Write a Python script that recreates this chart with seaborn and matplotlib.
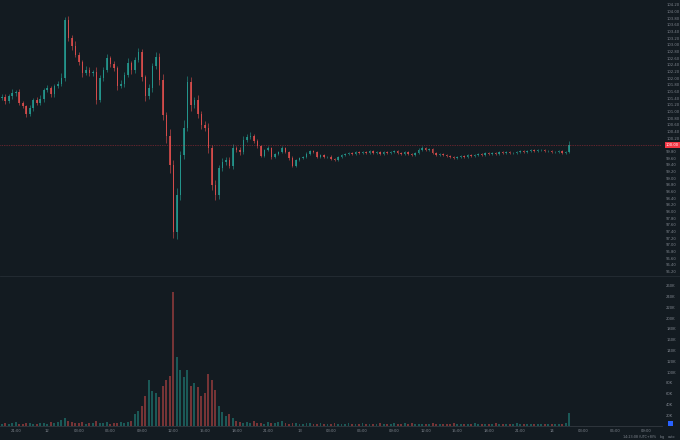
import numpy as np
import pandas as pd
import matplotlib.pyplot as plt
import matplotlib.transforms as mtransforms
from matplotlib.patches import Rectangle
import seaborn as sns

# 20-minute candles
start_time = "2023-05-11 19:40"
first_open = 101.40
closes = [
    101.44, 101.32, 101.47, 101.56, 101.59, 101.26, 101.17, 100.93, 101.11, 101.35,
    101.26, 101.38, 101.65, 101.71, 101.53, 101.77, 101.83, 102.01, 103.75, 103.21,
    102.97, 102.70, 102.49, 102.16, 102.25, 102.16, 102.19, 101.35, 102.01, 102.25,
    102.61, 102.43, 102.31, 101.77, 101.83, 102.10, 102.46, 102.25, 102.55, 102.79,
    102.04, 101.47, 101.71, 102.37, 102.64, 101.95, 100.90, 100.27, 99.40, 97.39,
    98.50, 99.70, 100.51, 101.89, 101.20, 101.35, 100.93, 100.60, 100.51, 99.91,
    98.80, 98.50, 99.31, 99.49, 99.55, 99.37, 99.91, 99.85, 99.79, 100.15,
    100.24, 100.27, 100.12, 99.97, 99.67, 99.85, 99.91, 99.64, 99.73, 99.79,
    99.91, 99.79, 99.61, 99.37, 99.55, 99.61, 99.64, 99.73, 99.82, 99.79,
    99.64, 99.70, 99.64, 99.64, 99.58, 99.55, 99.64, 99.70, 99.73, 99.76,
    99.73, 99.79, 99.76, 99.79, 99.76, 99.82, 99.76, 99.79, 99.73, 99.79,
    99.76, 99.79, 99.82, 99.76, 99.73, 99.79, 99.73, 99.70, 99.76, 99.85,
    99.91, 99.85, 99.88, 99.76, 99.70, 99.73, 99.70, 99.67, 99.64, 99.61,
    99.64, 99.67, 99.64, 99.70, 99.67, 99.70, 99.73, 99.70, 99.76, 99.73,
    99.76, 99.73, 99.79, 99.76, 99.79, 99.76, 99.76, 99.79, 99.82, 99.79,
    99.82, 99.85, 99.82, 99.85, 99.85, 99.82, 99.82, 99.79, 99.79, 99.82,
    99.76, 99.79, 100.00,
]
upper_wicks = [
    0.08, 0.10, 0.06, 0.12, 0.05, 0.09, 0.07, 0.04, 0.10, 0.06,
    0.08, 0.11, 0.05, 0.09, 0.07, 0.06, 0.10, 0.15, 0.09, 0.12,
    0.08, 0.14, 0.10, 0.07, 0.12, 0.09, 0.06, 0.15, 0.10, 0.08,
    0.13, 0.07, 0.09, 0.06, 0.11, 0.08, 0.14, 0.07, 0.10, 0.12,
    0.09, 0.06, 0.13, 0.10, 0.16, 0.12, 0.18, 0.10, 0.22, 0.15,
    0.20, 0.12, 0.25, 0.18, 0.14, 0.10, 0.16, 0.08, 0.12, 0.15,
    0.10, 0.14, 0.09, 0.11, 0.08, 0.10, 0.12, 0.07, 0.09, 0.11,
    0.08, 0.12, 0.06, 0.05,
    0.04, 0.03, 0.05, 0.03, 0.04, 0.02, 0.05, 0.03, 0.04, 0.06,
    0.03, 0.04, 0.02, 0.05, 0.03, 0.04, 0.03, 0.02, 0.04, 0.03,
    0.05, 0.03, 0.02, 0.04, 0.03, 0.02, 0.03, 0.04, 0.02, 0.03,
    0.02, 0.04, 0.03, 0.02, 0.03, 0.02, 0.03, 0.02, 0.04, 0.02,
    0.03, 0.02, 0.03, 0.02, 0.04, 0.05, 0.06, 0.03, 0.04, 0.02,
    0.03, 0.02, 0.03, 0.02, 0.02, 0.03, 0.02, 0.03, 0.02, 0.03,
    0.02, 0.03, 0.02, 0.03, 0.02, 0.03, 0.02, 0.02, 0.03, 0.02,
    0.03, 0.02, 0.02, 0.03, 0.02, 0.03, 0.02, 0.03, 0.02, 0.02,
    0.03, 0.02, 0.02, 0.03, 0.02, 0.03, 0.02, 0.02, 0.12,
]
lower_wicks = [
    0.06, 0.09, 0.05, 0.08, 0.10, 0.07, 0.05, 0.09, 0.06, 0.08,
    0.05, 0.07, 0.10, 0.06, 0.08, 0.09, 0.05, 0.07, 0.10, 0.08,
    0.12, 0.07, 0.09, 0.11, 0.06, 0.10, 0.08, 0.12, 0.07, 0.09,
    0.06, 0.10, 0.08, 0.13, 0.07, 0.09, 0.06, 0.11, 0.08, 0.07,
    0.12, 0.15, 0.09, 0.11, 0.08, 0.14, 0.16, 0.20, 0.25, 0.18,
    0.22, 0.15, 0.12, 0.10, 0.18, 0.09, 0.13, 0.11, 0.10, 0.14,
    0.16, 0.15, 0.12, 0.08, 0.10, 0.07, 0.09, 0.06, 0.08, 0.07,
    0.06, 0.05, 0.07, 0.05,
    0.03, 0.04, 0.02, 0.05, 0.03, 0.04, 0.02, 0.03, 0.05, 0.04,
    0.03, 0.02, 0.04, 0.03, 0.02, 0.03, 0.04, 0.03, 0.02, 0.03,
    0.04, 0.02, 0.03, 0.02, 0.03, 0.02, 0.03, 0.02, 0.03, 0.02,
    0.03, 0.02, 0.02, 0.03, 0.02, 0.03, 0.02, 0.03, 0.02, 0.03,
    0.02, 0.03, 0.02, 0.03, 0.02, 0.03, 0.02, 0.03, 0.02, 0.04,
    0.03, 0.02, 0.03, 0.02, 0.04, 0.03, 0.02, 0.03, 0.02, 0.03,
    0.02, 0.03, 0.02, 0.03, 0.02, 0.02, 0.03, 0.02, 0.03, 0.02,
    0.02, 0.03, 0.02, 0.02, 0.03, 0.02, 0.02, 0.03, 0.02, 0.02,
    0.03, 0.02, 0.02, 0.03, 0.02, 0.02, 0.03, 0.02, 0.03,
]
# volume in thousands
volumes = [
    4, 6, 3, 5, 7, 4, 3, 6, 5, 4, 3, 5, 6, 4, 7, 5, 8, 12,
    15, 10, 8, 6, 5, 7, 4, 6, 5, 9, 6, 5, 7, 4, 6, 5, 8, 6, 7, 9,
    22, 28, 37, 55, 85, 65, 61, 54, 74, 85, 93, 248, 128, 104, 91, 104, 74, 80, 72, 56,
    61, 96, 85, 67, 37, 26, 19, 22, 15,
    10, 8, 6, 7, 5, 9, 6, 5, 4, 8, 6, 5, 7, 9, 5, 4, 6, 5, 3, 4,
    5, 6, 4, 3, 5, 4, 3, 4, 5, 3, 4, 3, 5, 4, 3, 4, 6, 3, 4, 3,
    4, 5, 3, 4, 3, 5, 4, 3, 6, 4, 5, 3, 4, 3, 4, 3, 5, 4, 3, 4,
    3, 4, 5, 3, 4, 3, 4, 3, 5, 4, 3, 4, 3, 4, 5, 3, 4, 3, 4, 3,
    5, 4, 3, 4, 3, 4, 3, 3, 4, 3, 4, 3, 4, 3, 5,
    24,
]
last_price = 100.00
price_ticks = np.round(np.arange(96.2, 104.21, 0.2), 2)
volume_ticks = list(range(20, 261, 20))
footer = "14:23:08 (UTC+8)"

BG = "#131b21"
UP = "#26a69a"
DOWN = "#ef5350"
TXT = "#80868f"
FS = 2.7

sns.set_theme(style="dark", rc={"axes.facecolor": BG, "figure.facecolor": BG})
plt.rcParams["font.family"] = ["Liberation Sans Narrow", "DejaVu Sans"]

df = pd.DataFrame({"close": closes, "up": upper_wicks, "dn": lower_wicks, "volume": volumes})
df["open"] = df["close"].shift(1).fillna(first_open)
df["high"] = df[["open", "close"]].max(axis=1) + df["up"]
df["low"] = df[["open", "close"]].min(axis=1) - df["dn"]
df["dir"] = np.where(df["close"] >= df["open"], "up", "down")
df["x"] = np.arange(len(df))

n_slots = 189
times = pd.date_range(start_time, periods=n_slots, freq="20min")

fig = plt.figure(figsize=(6.8, 4.4), dpi=100)
W, H = 680, 440
ax = fig.add_axes([0, 1 - 276 / H, 662 / W, 276 / H])
axv = fig.add_axes([0, 1 - 426 / H, 662 / W, 150 / H])

# candles
cols = np.where(df["dir"] == "up", UP, DOWN)
ax.vlines(df["x"], df["low"], df["high"], colors=cols, lw=0.5, alpha=0.75)
body_lo = df[["open", "close"]].min(axis=1)
body_h = np.maximum((df["close"] - df["open"]).abs(), 0.012)
ax.bar(df["x"], body_h, bottom=body_lo, width=0.45, color=cols, alpha=0.75, linewidth=0)
ax.axhline(last_price, color="#f23645", lw=0.5, ls=(0, (1, 1.5)), alpha=0.7)

# volume
sns.barplot(data=df, x="x", y="volume", hue="dir", palette={"up": UP, "down": DOWN},
            native_scale=True, dodge=False, width=0.55, legend=False, ax=axv,
            saturation=1, alpha=0.45, linewidth=0)

for a in (ax, axv):
    a.set_xlim(-0.5, n_slots - 0.5)
    a.set_xlabel("")
    a.set_ylabel("")
    for s in a.spines.values():
        s.set_visible(False)
    a.yaxis.tick_right()
    a.tick_params(axis="y", length=0, labelsize=FS, labelcolor=TXT, pad=3)

ax.set_ylim(104.35 - 0.03 * 276, 104.35)
ax.set_yticks(price_ticks)
ax.set_yticklabels([f"{v:.2f}" for v in price_ticks])
ax.set_xticks([])

axv.set_ylim(0, 278)
axv.set_yticks(volume_ticks)
axv.set_yticklabels([f"{v}K" for v in volume_ticks])
axv.spines["bottom"].set_visible(True)
axv.spines["bottom"].set_color("#333a41")
axv.spines["bottom"].set_linewidth(0.6)

# 3-hour ticks, day number at midnight
tick_pos = [i for i, t in enumerate(times) if t.minute == 0 and t.hour % 3 == 0]
tick_lab = [str(times[i].day) if times[i].hour == 0 else times[i].strftime("%H:%M") for i in tick_pos]
axv.set_xticks(tick_pos)
axv.set_xticklabels(tick_lab)
axv.tick_params(axis="x", length=0, labelsize=FS, labelcolor=TXT, pad=2.5)

# pane separator
fig.add_artist(plt.Line2D([0, 1], [1 - 276 / H, 1 - 276 / H], color="#222a31", lw=0.8))

# last price tag
trans = mtransforms.blended_transform_factory(ax.transAxes, ax.transData)
ax.text(1.006, last_price, f"{last_price:.2f}", transform=trans, fontsize=FS, color="white",
        va="center", ha="left", clip_on=False,
        bbox=dict(boxstyle="square,pad=0.3", fc="#f23645", ec="none"))

fig.patches.append(Rectangle((668 / W, 1 - 426 / H), 5 / W, 5 / H, transform=fig.transFigure,
                             fc="#2962ff", ec="none"))
fig.text(623 / W, 1 - 437 / H, footer, fontsize=2.4, color=TXT, va="center")
fig.text(653 / W, 1 - 437 / H, "%", fontsize=2.4, color=TXT, va="center")
fig.text(660 / W, 1 - 437 / H, "log", fontsize=2.4, color=TXT, va="center")
fig.text(668 / W, 1 - 437 / H, "auto", fontsize=2.4, color=TXT, va="center")

fig.savefig("out.png", dpi=100, facecolor=BG)
